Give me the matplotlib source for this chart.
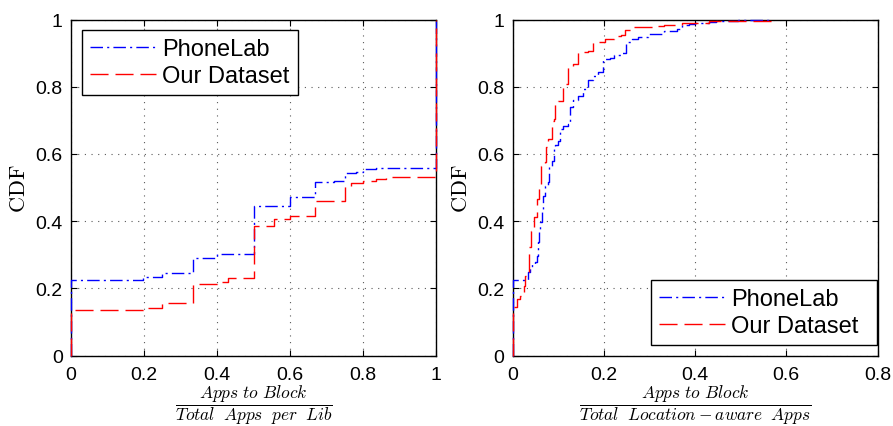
import matplotlib
matplotlib.use("Agg")
import matplotlib.pyplot as plt

plt.rcParams['mathtext.fontset'] = 'cm'
plt.rcParams['font.family'] = ['Liberation Sans', 'DejaVu Sans']

# per-library blocking fraction (step CDF)
lib_phonelab_x = [0, 0, 0.197, 0.248, 0.333, 0.40, 0.50, 0.50, 0.56, 0.60, 0.60, 0.668, 0.72, 0.75, 0.78, 0.80, 0.835, 1.0, 1.0]
lib_phonelab_y = [0, 0.226, 0.233, 0.247, 0.289, 0.301, 0.307, 0.444, 0.446, 0.456, 0.473, 0.515, 0.519, 0.542, 0.545, 0.555, 0.557, 0.557, 1.0]
lib_ours_x = [0, 0, 0.197, 0.248, 0.333, 0.40, 0.43, 0.50, 0.555, 0.60, 0.668, 0.75, 0.766, 0.80, 0.835, 0.862, 1.0, 1.0]
lib_ours_y = [0, 0.136, 0.140, 0.156, 0.213, 0.218, 0.230, 0.384, 0.406, 0.416, 0.461, 0.505, 0.512, 0.518, 0.525, 0.531, 0.531, 1.0]

# fraction of location-aware apps to block
loc_phonelab_x = [0, 0, 0.034, 0.039, 0.042, 0.049, 0.054, 0.055, 0.057, 0.060, 0.065, 0.067, 0.072,
                  0.078, 0.081, 0.086, 0.090, 0.093, 0.100, 0.104, 0.110, 0.122, 0.125, 0.133, 0.144,
                  0.154, 0.165, 0.176, 0.187, 0.199, 0.213, 0.2235, 0.238, 0.249, 0.263, 0.274, 0.296,
                  0.332, 0.361, 0.372, 0.387, 0.401, 0.430, 0.445, 0.495, 0.568]
loc_phonelab_y = [0, 0.226, 0.25, 0.262, 0.272, 0.277, 0.297, 0.337, 0.367, 0.396, 0.431, 0.476, 0.505,
                  0.516, 0.564, 0.580, 0.615, 0.626, 0.639, 0.675, 0.684, 0.690, 0.739, 0.761, 0.773,
                  0.793, 0.821, 0.833, 0.843, 0.882, 0.886, 0.894, 0.900, 0.932, 0.942, 0.949, 0.957,
                  0.967, 0.972, 0.985, 0.987, 0.990, 0.992, 0.995, 0.998, 1.0]
loc_ours_x = [0, 0, 0.0094, 0.0167, 0.0254, 0.0276, 0.0326, 0.0363, 0.040, 0.047, 0.054, 0.058, 0.062,
              0.071, 0.0725, 0.078, 0.0856, 0.0907, 0.093, 0.100, 0.111, 0.122, 0.133, 0.144, 0.165,
              0.176, 0.202, 0.2235, 0.238, 0.247, 0.263, 0.274, 0.31, 0.332, 0.372, 0.43, 0.568]
loc_ours_y = [0, 0.143, 0.168, 0.176, 0.208, 0.238, 0.248, 0.322, 0.371, 0.411, 0.466, 0.500, 0.565,
              0.575, 0.620, 0.644, 0.699, 0.704, 0.753, 0.758, 0.808, 0.858, 0.868, 0.902, 0.907,
              0.932, 0.942, 0.950, 0.955, 0.969, 0.977, 0.979, 0.981, 0.984, 0.990, 0.997, 1.0]

labels = ['PhoneLab', 'Our Dataset']
xticks_left = [0, 0.2, 0.4, 0.6, 0.8, 1]
xticks_right = [0, 0.2, 0.4, 0.6, 0.8]
yticks = [0, 0.2, 0.4, 0.6, 0.8, 1]

fig = plt.figure(figsize=(8.93, 4.27), dpi=100)
ax1 = fig.add_axes([71 / 893, 70.5 / 427, 365 / 893, 336 / 427])
ax2 = fig.add_axes([512.5 / 893, 70.5 / 427, 365 / 893, 336 / 427])


def style_axes(ax, xticks, xmax, xlabel):
    ax.set_xlim(0, xmax)
    ax.set_ylim(0, 1)
    ax.set_xticks(xticks)
    ax.set_yticks(yticks)
    ax.set_xticklabels(['%g' % t for t in xticks])
    ax.set_yticklabels(['%g' % t for t in yticks])
    ax.tick_params(direction='in', length=4, width=0.8, top=True, right=True,
                   labelsize=14)
    ax.tick_params(axis='x', pad=7.5)
    ax.tick_params(axis='y', pad=6)
    ax.grid(True, color='0.35', linestyle=(0, (1, 5)), linewidth=0.8)
    for s in ax.spines.values():
        s.set_linewidth(1.0)
    ax.set_ylabel(r'$\mathrm{CDF}$', fontsize=16)
    ax.yaxis.set_label_coords(-0.112, 0.5)
    ax.set_xlabel(xlabel, fontsize=12.5)
    ax.xaxis.set_label_coords(0.5, -0.082)


def draw(ax, xa, ya, xb, yb):
    ax.step(xa, ya, where='post', color='blue', lw=1.0, dashes=(9, 3, 1.5, 3),
            label=labels[0], zorder=3, clip_on=False)
    ax.step(xb, yb, where='post', color='red', lw=1.0, dashes=(13, 5),
            label=labels[1], zorder=3, clip_on=False)


def add_legend(ax, loc, box):
    leg = ax.legend(loc=loc, bbox_to_anchor=box, mode='expand', fontsize=17,
                    frameon=True, fancybox=False, edgecolor='black', framealpha=1,
                    handlelength=2.8, handletextpad=0.25, labelspacing=0.2,
                    borderpad=0.35, borderaxespad=0)
    leg.get_frame().set_linewidth(1.0)


draw(ax1, lib_phonelab_x, lib_phonelab_y, lib_ours_x, lib_ours_y)
style_axes(ax1, xticks_left, 1,
           r'$\dfrac{Apps\ to\ Block}{Total\ \;Apps\ \;per\ \;Lib}$')
add_legend(ax1, 'upper left', (0.029, 0.0, 0.592, 0.969))

draw(ax2, loc_phonelab_x, loc_phonelab_y, loc_ours_x, loc_ours_y)
style_axes(ax2, xticks_right, 0.8,
           r'$\dfrac{Apps\ to\ Block}{Total\ \;Location-aware\ \;Apps}$')
add_legend(ax2, 'lower left', (0.3795, 0.031, 0.619, 0.5))

fig.savefig('out.png', dpi=100)
